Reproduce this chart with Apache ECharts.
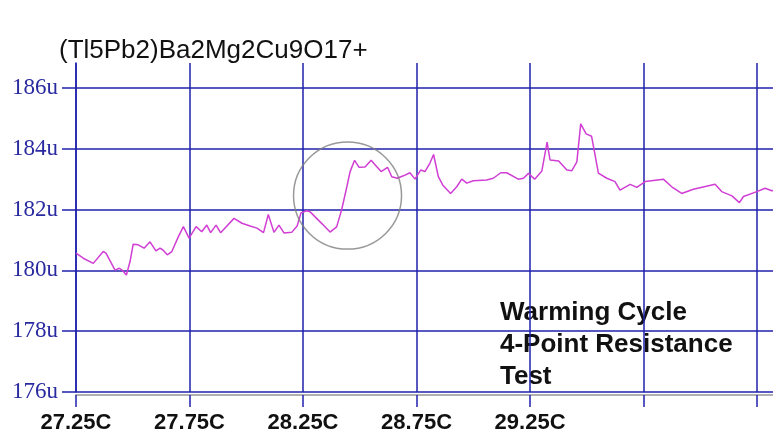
<!DOCTYPE html>
<html>
<head>
<meta charset="utf-8">
<script src="https://cdn.jsdelivr.net/npm/echarts@6/dist/echarts.min.js"></script>
<style>
  html, body { margin: 0; padding: 0; background: #fff; }
  #chart { width: 773px; height: 436px; }
</style>
</head>
<body>
<div id="chart"></div>
<script>
// temperature (C)
var tempC = [
  27.250, 27.282, 27.326, 27.370, 27.382, 27.422, 27.441, 27.456, 27.472, 27.488,
  27.502, 27.524, 27.550, 27.576, 27.602, 27.620, 27.633, 27.652, 27.672, 27.701,
  27.723, 27.748, 27.779, 27.804, 27.826, 27.843, 27.867, 27.887, 27.946, 27.981,
  28.017, 28.047, 28.076, 28.097, 28.122, 28.144, 28.166, 28.200, 28.224, 28.241,
  28.266, 28.281, 28.303, 28.334, 28.369, 28.398, 28.420, 28.443, 28.457, 28.477,
  28.497, 28.523, 28.550, 28.572, 28.594, 28.622, 28.641, 28.665, 28.692, 28.721,
  28.743, 28.768, 28.787, 28.809, 28.825, 28.846, 28.865, 28.900, 28.927, 28.949,
  28.971, 29.000, 29.059, 29.088, 29.121, 29.147, 29.198, 29.221, 29.243, 29.270,
  29.302, 29.325, 29.338, 29.376, 29.412, 29.434, 29.456, 29.473, 29.497, 29.521,
  29.551, 29.588, 29.624, 29.646, 29.691, 29.720, 29.757, 29.837, 29.874, 29.918,
  29.969, 30.065, 30.094, 30.139, 30.172, 30.190, 30.249, 30.285, 30.315, 30.330
]
// resistance (u)
var resist = [
  180.57, 180.40, 180.23, 180.62, 180.57, 180.01, 180.07, 179.99, 179.85, 180.29,
  180.86, 180.84, 180.73, 180.94, 180.64, 180.73, 180.67, 180.51, 180.62, 181.11,
  181.44, 181.06, 181.44, 181.27, 181.49, 181.24, 181.49, 181.24, 181.71, 181.55,
  181.46, 181.39, 181.24, 181.84, 181.25, 181.49, 181.23, 181.25, 181.46, 181.89,
  181.96, 181.93, 181.76, 181.53, 181.26, 181.43, 181.99, 182.75, 183.24, 183.62,
  183.39, 183.40, 183.62, 183.43, 183.25, 183.39, 183.08, 183.03, 183.11, 183.21,
  183.00, 183.30, 183.25, 183.53, 183.81, 183.08, 182.81, 182.53, 182.75, 183.00,
  182.87, 182.95, 182.97, 183.03, 183.21, 183.21, 183.00, 183.03, 183.19, 183.00,
  183.27, 184.22, 183.63, 183.60, 183.30, 183.28, 183.57, 184.82, 184.49, 184.41,
  183.20, 183.03, 182.92, 182.64, 182.83, 182.73, 182.92, 183.00, 182.75, 182.53,
  182.67, 182.83, 182.59, 182.45, 182.23, 182.43, 182.59, 182.70, 182.62, 182.64
]
var xTicks = [27.25, 27.75, 28.25, 28.75, 29.25]   // labelled ones only
var yTicks = [176, 178, 180, 182, 184, 186]
var circled = [[28.446, 182.46]]   // the transition that is circled
var titleText = '(Tl5Pb2)Ba2Mg2Cu9O17+'
var noteLines = ['Warming Cycle', '4-Point Resistance', 'Test']

var gridBlue = '#2020ad'

function drawChart () {
  var points = tempC.map(function (t, i) { return [t, resist[i]] })
  var option = {
    animation: false,
    backgroundColor: '#fff',
    title: {
      text: titleText,
      left: 59,
      top: 38,
      padding: 0,
      textStyle: { fontFamily: 'Arial, Liberation Sans', fontWeight: 'normal', fontSize: 26, color: '#111' }
    },
    grid: { left: 76, right: 0, top: 63, bottom: 44, containLabel: false },
    xAxis: {
      type: 'value',
      min: 27.25,
      max: 30.32,
      interval: 0.5,
      offset: 3,
      axisLine: { show: true, lineStyle: { color: '#b0b0b0', width: 2 } },
      axisTick: { show: true, length: 12, lineStyle: { color: gridBlue, width: 1.5 } },
      splitLine: { show: true, showMaxLine: false, lineStyle: { color: gridBlue, width: 1.5 } },
      axisLabel: {
        margin: 17,
        showMaxLabel: false,
        fontFamily: 'Arial, Liberation Sans',
        fontWeight: 'bold',
        fontSize: 22,
        color: '#111',
        formatter: function (v) {
          return xTicks.indexOf(v) >= 0 ? v.toFixed(2) + 'C' : ''
        }
      }
    },
    yAxis: {
      type: 'value',
      min: 176,
      max: 186.82,
      interval: 2,
      axisLine: { show: true, lineStyle: { color: gridBlue, width: 1.5 } },
      axisTick: { show: true, length: 14, lineStyle: { color: gridBlue, width: 1.5 } },
      splitLine: { show: true, showMaxLine: false, lineStyle: { color: gridBlue, width: 1.5 } },
      axisLabel: {
        margin: 18,
        showMaxLabel: false,
        fontFamily: 'Liberation Serif, DejaVu Serif, serif',
        fontSize: 23,
        color: '#2a2aa0',
        formatter: function (v) {
          return yTicks.indexOf(v) >= 0 ? v + 'u' : ''
        }
      }
    },
    graphic: [{
      type: 'text',
      left: 500,
      top: 297,
      style: {
        text: noteLines.join('\n'),
        font: 'bold 26px Arial, Liberation Sans',
        lineHeight: 32,
        fill: '#111'
      }
    }],
    series: [{
      type: 'line',
      data: points,
      showSymbol: false,
      clip: true,
      lineStyle: { color: '#d03ed4', width: 1.5 },
      z: 3
    }, {
      type: 'scatter',
      data: circled,
      symbol: 'circle',
      symbolSize: [108, 107],
      silent: true,
      itemStyle: { color: 'rgba(0,0,0,0)', borderColor: '#808080', borderWidth: 1.5 },
      z: 4
    }]
  }
  var myChart = echarts.init(document.getElementById('chart'))
  myChart.setOption(option, true)
}
drawChart()
</script>
</body>
</html>
